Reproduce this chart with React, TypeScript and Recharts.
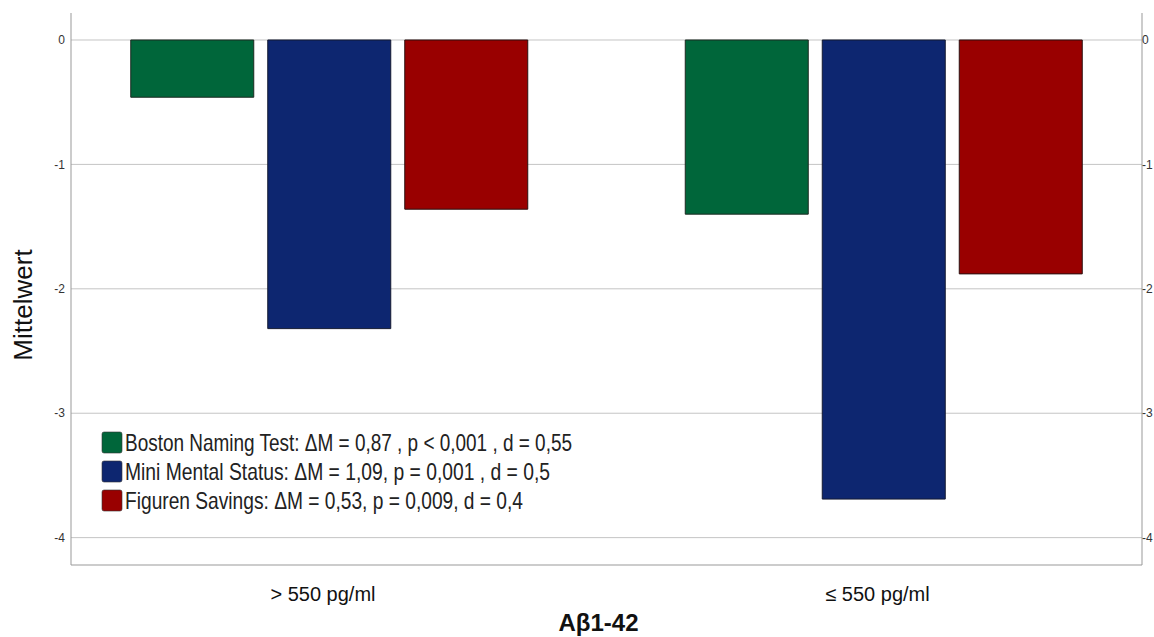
import { BarChart, Bar, XAxis, YAxis, CartesianGrid, Legend, Label } from 'recharts'

const groups = ['> 550 pg/ml', '≤ 550 pg/ml']
const bostonNaming = [-0.46, -1.4]
const miniMental = [-2.32, -3.69]
const figurenSavings = [-1.36, -1.88]
const seriesNames = [
  'Boston Naming Test: ΔM = 0,87 , p < 0,001 , d = 0,55',
  'Mini Mental Status: ΔM = 1,09, p = 0,001 , d = 0,5',
  'Figuren Savings: ΔM = 0,53, p = 0,009, d = 0,4',
]
const yTicks = [0, -1, -2, -3, -4]

const data = groups.map((g, i) => ({
  idx: i,
  group: g,
  boston: bostonNaming[i],
  mmst: miniMental[i],
  figuren: figurenSavings[i],
}))

const FONT = '"Liberation Sans", Arial, sans-serif'
const legendWidths = [447, 425, 398]

function LegendBox(props: any) {
  // keep the series order instead of recharts' sorted payload
  const items = [...(props.payload || [])].sort(
    (a: any, b: any) => seriesNames.indexOf(a.value) - seriesNames.indexOf(b.value)
  )
  return (
    <svg width={660} height={96} style={{ display: 'block', overflow: 'visible' }}>
      <rect x={0} y={0} width={490} height={96} fill="#fff" />
      {items.map((p: any, i: number) => (
        <g key={i}>
          <rect x={6} y={7 + i * 29} width={20} height={21} rx={2} fill={p.color} stroke="#333" strokeOpacity={0.6} />
          <text
            x={29}
            y={26 + i * 29}
            fontSize={24}
            fontFamily={FONT}
            fill="#222"
            textLength={legendWidths[i]}
            lengthAdjust="spacingAndGlyphs"
          >
            {p.value}
          </text>
        </g>
      ))}
    </svg>
  )
}

function YTitle(props: any) {
  const vb = props.viewBox
  const cx = vb.x + 23
  const cy = vb.y + vb.height / 2 + 16
  return (
    <text x={cx} y={cy} transform={`rotate(-90 ${cx} ${cy})`} textAnchor="middle" dominantBaseline="central" fontSize={26} fontFamily={FONT} fill="#111">
      Mittelwert
    </text>
  )
}

export default function App() {
  const yDomain = [-4.22, 0.217]
  return (
    <div style={{ position: 'absolute', left: 0, top: 0, width: 1154, height: 637, background: '#fff' }}>
      <BarChart width={1154} height={637} data={data} margin={{ top: 13, right: 0, bottom: 0, left: 0 }} barGap={14}>
        <CartesianGrid vertical={false} stroke="#c4c4c4" syncWithTicks />
        <XAxis
          dataKey="idx"
          type="number"
          domain={[-0.4653, 1.4662]}
          allowDataOverflow
          ticks={[0, 1]}
          tickFormatter={(v: number) => groups[v]}
          height={72}
          axisLine={{ stroke: '#999' }}
          tickLine={false}
          tickSize={0}
          tickMargin={22}
          tick={{ fontSize: 20, fontFamily: FONT, fill: '#111', dx: -6 }}
        >
          <Label value="Aβ1-42" position="insideBottom" offset={6} dx={-8} style={{ fontSize: 24, fontWeight: 'bold', fontFamily: FONT, fill: '#111' }} />
        </XAxis>
        <YAxis
          yAxisId={0}
          width={71}
          domain={yDomain}
          allowDataOverflow
          ticks={yTicks}
          axisLine={{ stroke: '#999' }}
          tickLine={false}
          tickSize={6}
          tickMargin={0}
          tick={{ fontSize: 12, fontFamily: FONT, fill: '#333' }}
        >
          <Label content={<YTitle />} />
        </YAxis>
        <YAxis
          yAxisId="right"
          orientation="right"
          width={12}
          domain={yDomain}
          allowDataOverflow
          ticks={yTicks}
          axisLine={{ stroke: '#999' }}
          tickLine={false}
          tickSize={0}
          tickMargin={0}
          tick={{ fontSize: 12, fontFamily: FONT, fill: '#333' }}
        />
        <Legend
          layout="horizontal"
          align="center"
          verticalAlign="middle"
          content={<LegendBox />}
          wrapperStyle={{ position: 'absolute', left: 96, top: 425, width: 660, height: 96 }}
        />
        <Bar dataKey="boston" name={seriesNames[0]} fill="#00663a" stroke="#1c2a22" strokeWidth={1} barSize={123} isAnimationActive={false} />
        <Bar dataKey="mmst" name={seriesNames[1]} fill="#0d2670" stroke="#141a30" strokeWidth={1} barSize={123} isAnimationActive={false} />
        <Bar dataKey="figuren" name={seriesNames[2]} fill="#990000" stroke="#2a1010" strokeWidth={1} barSize={123} isAnimationActive={false} />
      </BarChart>
    </div>
  )
}
